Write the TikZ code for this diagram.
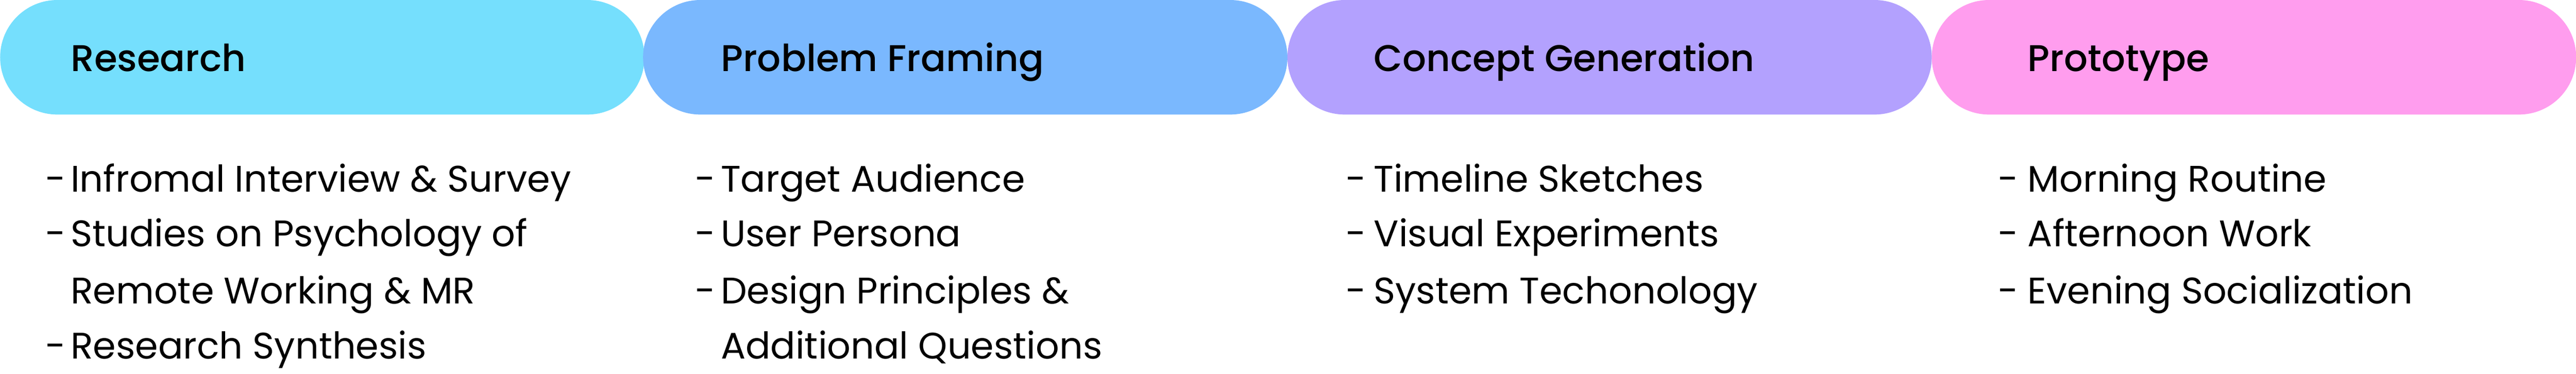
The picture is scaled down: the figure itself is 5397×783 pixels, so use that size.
\documentclass[tikz,border=0pt]{standalone}
\usepackage{fontspec}
\setmainfont{Poppins}
\newfontfamily\titlefont{Poppins Medium}
\usepackage{tikz}

\definecolor{researchblue}{HTML}{75DFFD}
\definecolor{framingblue}{HTML}{7AB8FE}
\definecolor{conceptviolet}{HTML}{B3A1FE}
\definecolor{prototypepink}{HTML}{FF9DEE}

\tikzset{
  phase/.style={anchor=west, inner sep=0pt, minimum width=1012.5pt, minimum height=180pt, rounded corners=89.9pt},
  phasetitle/.style={anchor=base west, inner sep=0pt, font=\titlefont\fontsize{58.5}{72}\selectfont},
  item/.style={anchor=base west, inner sep=0pt, font=\fontsize{58}{72}\selectfont},
  itemdash/.style={anchor=base east, inner sep=0pt, font=\fontsize{58}{72}\selectfont}
}

\begin{document}
\begin{tikzpicture}[x=0.75pt,y=0.75pt,yscale=-1,xscale=1]
\useasboundingbox (0,0) rectangle (5397,783);

%Shape: Pills
\node [phase, fill=researchblue] (pillresearch) at (0,120) {};
\node [phase, fill=framingblue] (pillframing) at (1347,120) {};
\node [phase, fill=conceptviolet] (pillconcept) at (2697,120) {};
\node [phase, fill=prototypepink] (pillprototype) at (4047,120) {};

% Text Node
\node [phasetitle] (tresearch) at (148,150) {Research};
% Text Node
\node [phasetitle] (tframing) at (1510,150) {Problem Framing};
% Text Node
\node [phasetitle] (tconcept) at (2878,150) {Concept Generation};
% Text Node
\node [phasetitle] (tprototype) at (4248,150) {Prototype};

% Research items
\node [itemdash] (dr1) at (138,402) {-};
\node [item] (r1) at (148,402) {Infromal Interview \& Survey};
\node [itemdash] (dr2) at (138,517) {-};
\node [item] (r2) at (148,517) {Studies on Psychology of};
\node [item] (r3) at (148,636) {Remote Working \& MR};
\node [itemdash] (dr4) at (138,752) {-};
\node [item] (r4) at (148,752) {Research Synthesis};

% Problem Framing items
\node [itemdash] (df1) at (1499,402) {-};
\node [item] (f1) at (1510,402) {Target Audience};
\node [itemdash] (df2) at (1499,517) {-};
\node [item] (f2) at (1510,517) {User Persona};
\node [itemdash] (df3) at (1499,636) {-};
\node [item] (f3) at (1510,636) {Design Principles \&};
\node [item] (f4) at (1510,752) {Additional Questions};

% Concept Generation items
\node [itemdash] (dc1) at (2863,402) {-};
\node [item] (c1) at (2878,402) {Timeline Sketches};
\node [itemdash] (dc2) at (2863,517) {-};
\node [item] (c2) at (2878,517) {Visual Experiments};
\node [itemdash] (dc3) at (2863,636) {-};
\node [item] (c3) at (2878,636) {System Techonology};

% Prototype items
\node [itemdash] (dp1) at (4229,402) {-};
\node [item] (p1) at (4248,402) {Morning Routine};
\node [itemdash] (dp2) at (4229,517) {-};
\node [item] (p2) at (4248,517) {Afternoon Work};
\node [itemdash] (dp3) at (4229,636) {-};
\node [item] (p3) at (4248,636) {Evening Socialization};

\end{tikzpicture}
\end{document}
